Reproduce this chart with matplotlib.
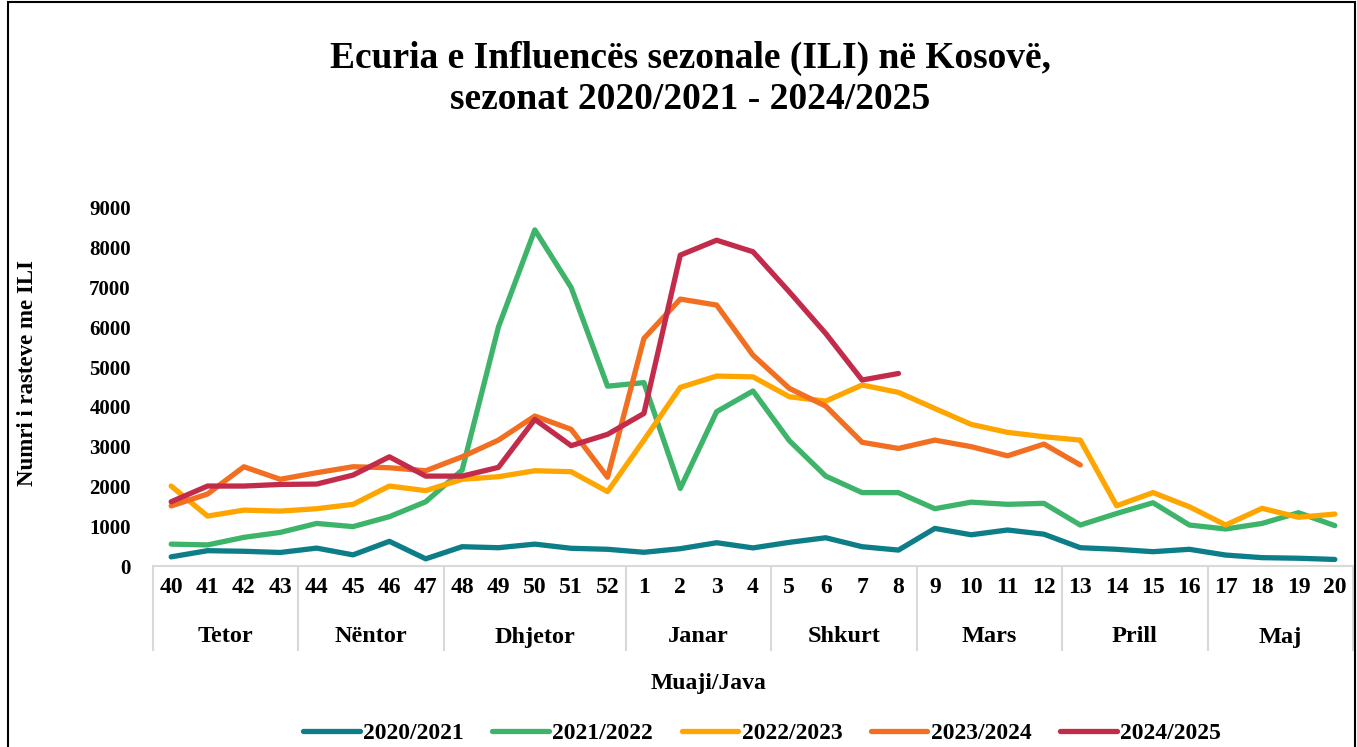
import numpy as np
import matplotlib
matplotlib.use("Agg")
import matplotlib.pyplot as plt
import matplotlib.patches as patches
import matplotlib.transforms as mtransforms

# week labels and month groups
weeks = ["40", "41", "42", "43", "44", "45", "46", "47", "48", "49", "50", "51", "52",
         "1", "2", "3", "4", "5", "6", "7", "8", "9", "10", "11", "12",
         "13", "14", "15", "16", "17", "18", "19", "20"]
months = ["Tetor", "Nëntor", "Dhjetor", "Janar", "Shkurt", "Mars", "Prill", "Maj"]
month_sizes = [4, 4, 5, 4, 4, 4, 4, 4]

# ILI cases per season
s2020 = [230, 385, 370, 340, 450, 280, 620, 180, 485, 460, 550, 445, 420,
         345, 435, 585, 455, 595, 710, 485, 400, 945, 785, 905, 800,
         460, 420, 360, 420, 275, 210, 195, 165]
s2021 = [550, 530, 720, 845, 1070, 990, 1240, 1615, 2410, 6010, 8450, 7000, 4520,
         4610, 1950, 3880, 4400, 3150, 2260, 1845, 1845, 1440, 1605, 1550, 1575,
         1030, 1320, 1590, 1030, 930, 1070, 1340, 1015]
s2022 = [2010, 1255, 1405, 1380, 1440, 1550, 2010, 1895, 2180, 2245, 2395, 2370, 1870,
         3165, 4490, 4775, 4755, 4255, 4145, 4550, 4365, 3960, 3560, 3360, 3250,
         3165, 1515, 1845, 1490, 1030, 1450, 1225, 1305]
s2023 = [1510, 1810, 2495, 2180, 2345, 2495, 2470, 2395, 2745, 3165, 3770, 3435, 2230,
         5720, 6710, 6560, 5300, 4465, 4020, 3110, 2955, 3165, 3000, 2770, 3065,
         2540]
s2024 = [1615, 2010, 2010, 2050, 2060, 2285, 2745, 2260, 2260, 2480, 3685, 3025, 3310,
         3835, 7815, 8190, 7900, 6890, 5845, 4675, 4840]

series = [("2020/2021", s2020, "#0D7D88"),
          ("2021/2022", s2021, "#3DB46A"),
          ("2022/2023", s2022, "#FFA500"),
          ("2023/2024", s2023, "#F26F22"),
          ("2024/2025", s2024, "#C32B4A")]

plt.rcParams["font.family"] = ["Liberation Serif", "DejaVu Serif"]
plt.rcParams["font.weight"] = "bold"

W, H = 1357, 747
fig = plt.figure(figsize=(W / 100, H / 100), dpi=100)
fig.patch.set_facecolor("white")

# outer chart border
fig.patches.append(patches.Rectangle((8 / W, -0.01), (1355 - 8) / W, 1.01 - 1.5 / H,
                                     transform=fig.transFigure, fill=False,
                                     edgecolor="black", linewidth=1.5))

# plot area
left, right, top, bottom = 153, 1353, 208, 566
ax = fig.add_axes([left / W, 1 - bottom / H, (right - left) / W, (bottom - top) / H])

x = np.arange(len(weeks))
for name, vals, col in series:
    ax.plot(x[:len(vals)], vals, color=col, linewidth=3.8, label=name,
            solid_capstyle="round", solid_joinstyle="round")

ax.set_xlim(-0.5, len(weeks) - 0.5)
ax.set_ylim(0, 9000)
ax.set_yticks(np.arange(0, 9001, 1000))
ax.tick_params(axis="y", length=0, pad=16, labelsize=15)
for lab in ax.get_yticklabels():
    lab.set_fontweight("bold")

ax.set_xticks(x)
ax.set_xticklabels(weeks, fontsize=17, fontweight="bold")
ax.tick_params(axis="x", length=0, pad=8)

for s in ["top", "right", "left"]:
    ax.spines[s].set_visible(False)
ax.spines["bottom"].set_color("#D9D9D9")
ax.spines["bottom"].set_linewidth(1.5)

# month labels and separators below the axis
trans = mtransforms.blended_transform_factory(ax.transData, ax.transAxes)
sep_bottom = -(650 - bottom) / (bottom - top)
month_y = -(637 - bottom) / (bottom - top)
edges = np.concatenate([[0], np.cumsum(month_sizes)]) - 0.5
for i, m in enumerate(months):
    ax.text((edges[i] + edges[i + 1]) / 2, month_y, m, transform=trans,
            ha="center", va="center", fontsize=17.5, fontweight="bold")
for e in edges:
    ax.plot([e, e], [0, sep_bottom], transform=trans, color="#D9D9D9",
            linewidth=1.5, clip_on=False)

fig.text(28 / W, 1 - 373 / H, "Numri i rasteve me ILI", rotation=90, ha="center",
         va="center", fontsize=16.5, fontweight="bold")
fig.text(709 / W, 1 - 683 / H, "Muaji/Java", ha="center", va="center",
         fontsize=17, fontweight="bold")

fig.text(690 / W, 1 - 79 / H, "Ecuria e Influencës sezonale (ILI) në Kosovë,\nsezonat 2020/2021 - 2024/2025",
         ha="center", va="center", fontsize=27, fontweight="bold", linespacing=1.2)

fig.legend(loc="center", bbox_to_anchor=(762 / W, 1 - 733 / H), ncol=5, frameon=False,
           prop={"size": 17, "weight": "bold"}, handlelength=2.4, handletextpad=0.15,
           columnspacing=1.2)

fig.savefig("out.png", dpi=100)
